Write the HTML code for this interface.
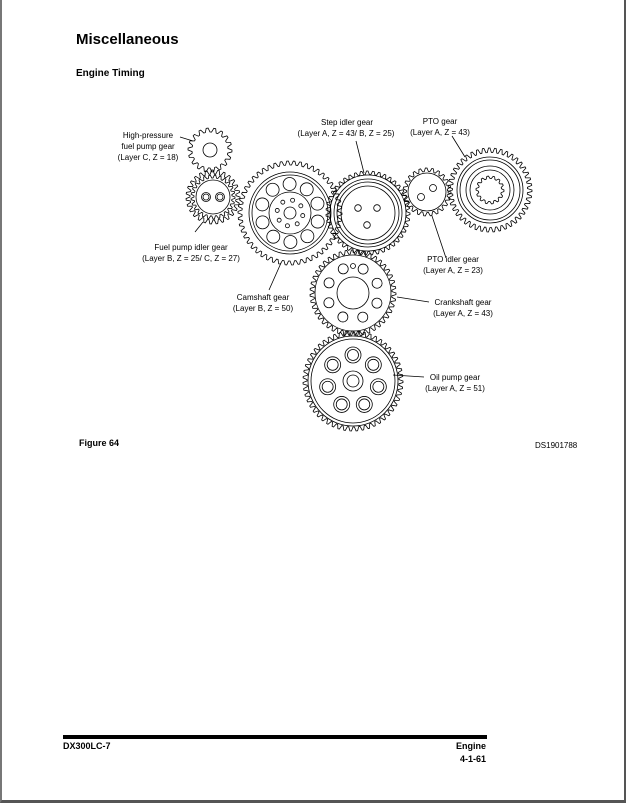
<!DOCTYPE html>
<html><head><meta charset="utf-8"><style>
body{margin:0;width:627px;height:803px;background:#fff;position:relative;overflow:hidden;font-family:"Liberation Sans",Arial,sans-serif;}
.frame{position:absolute;left:0;top:0;width:626px;height:803px;border-left:2px solid #777;border-right:2px solid #555;border-bottom:3px solid #555;box-sizing:border-box;}
.t{position:absolute;font-weight:bold;color:#000;white-space:nowrap}
</style></head><body>
<div class="frame"></div>
<div class="t" style="left:76px;top:31px;font-size:15px">Miscellaneous</div>
<div class="t" style="left:76px;top:68px;font-size:10px">Engine Timing</div>
<div class="t" style="left:79px;top:438px;font-size:9px">Figure 64</div>
<div class="t" style="left:535px;top:441px;font-size:8px;font-weight:normal">DS1901788</div>
<div style="position:absolute;left:63px;top:735px;width:424px;height:4px;background:#000"></div>
<div class="t" style="left:63px;top:741px;font-size:9px">DX300LC-7</div>
<div class="t" style="left:420px;top:741px;width:66px;text-align:right;font-size:9px">Engine</div>
<div class="t" style="left:420px;top:754px;width:66px;text-align:right;font-size:9px">4-1-61</div>
<svg id="s" width="627" height="803" style="position:absolute;left:0;top:0" font-family="Liberation Sans, Arial, sans-serif" font-size="8" fill="none" stroke="#000" stroke-width="0.8">
<g stroke="none" fill="#000" text-anchor="middle">
<text x="148" y="138">High-pressure</text>
<text x="148" y="149">fuel pump gear</text>
<text x="148" y="160">(Layer C, Z = 18)</text>
<text x="191" y="250">Fuel pump idler gear</text>
<text x="191" y="261">(Layer B, Z = 25/ C, Z = 27)</text>
<text x="263" y="300">Camshaft gear</text>
<text x="263" y="311">(Layer B, Z = 50)</text>
<text x="347" y="125">Step idler gear</text>
<text x="346" y="136">(Layer A, Z = 43/ B, Z = 25)</text>
<text x="440" y="124">PTO gear</text>
<text x="440" y="135">(Layer A, Z = 43)</text>
<text x="453" y="262">PTO idler gear</text>
<text x="453" y="273">(Layer A, Z = 23)</text>
<text x="463" y="305">Crankshaft gear</text>
<text x="463" y="316">(Layer A, Z = 43)</text>
<text x="455" y="380">Oil pump gear</text>
<text x="455" y="391">(Layer A, Z = 51)</text>
</g>
<g id="g"></g>
<path d="M180 137 L193 141 M195 232 L203 222 M269 290 L281 263 M356 141 L364 173 M452 136 L465 157 M446 258 L432 216 M397 297 L429 302 M393 375 L424 377"/>
</svg>
<script>
var g=document.getElementById('g'),h='';
function gear(cx,cy,r,n,d){var p='';for(var i=0;i<n*4;i++){var a=i/(n*4)*Math.PI*2;var rr=(i%4<2)?r:r-d;p+=(i?'L':'M')+(cx+rr*Math.cos(a)).toFixed(2)+' '+(cy+rr*Math.sin(a)).toFixed(2);}h+='<path d="'+p+'Z"/>';}
function c(cx,cy,r){h+='<circle cx="'+cx+'" cy="'+cy+'" r="'+r+'"/>';}
function ring(cx,cy,R,k,r,off){for(var i=0;i<k;i++){var a=(off||0)+i/k*Math.PI*2;c(cx+R*Math.cos(a),cy+R*Math.sin(a),r);}}
gear(210,150,22,18,4);c(210,150,7);
gear(213,197,27,27,4);gear(213,197,22,25,3);c(213,197,17);c(206,197,4.5);c(206,197,3);c(220,197,4.5);c(220,197,3);
gear(290,213,52,50,4);c(290,213,41);c(290,213,38);c(290,213,21);c(290,213,6);ring(290,213,29,10,6.5,0.3);ring(290,213,13,8,2,0.2);
gear(368,213,42,43,3.5);c(368,213,38);c(368,213,34);c(368,213,31);c(368,213,27);c(358,208,3.3);c(377,208,3.3);c(367,225,3.3);
gear(427,192,24,23,3.5);c(427,192,19);c(433,188,3.5);c(421,197,3.5);
gear(490,190,42,43,4.5);c(490,190,33);c(490,190,30);c(490,190,24);c(490,190,20);gear(490,190,14,14,2.5);
gear(353,293,43,43,4);c(353,293,38);c(353,293,16);ring(353,293,26,8,5,0.4);c(353,266,2.5);
gear(353,381,50,51,4);c(353,381,45);c(353,381,42);c(353,381,10);c(353,381,6);ring(353,381,26,7,8,-Math.PI/2);ring(353,381,26,7,5.5,-Math.PI/2);
g.innerHTML=h;
</script>
</body></html>
